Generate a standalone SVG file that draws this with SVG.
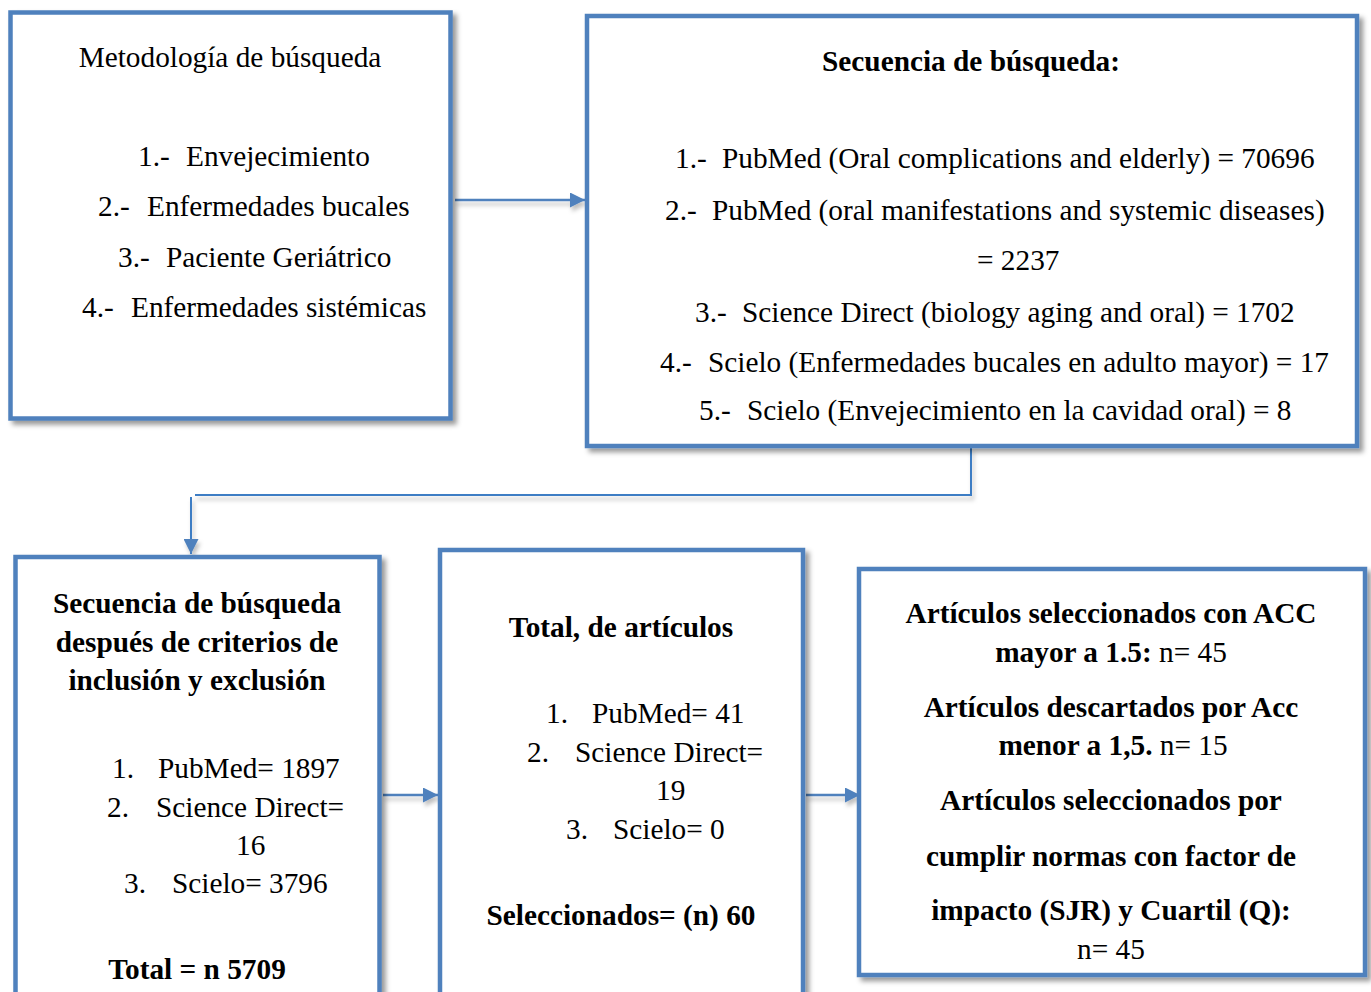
<svg xmlns="http://www.w3.org/2000/svg" width="1371" height="992" viewBox="0 0 1371 992">
<defs>
<style>
.box{fill:#fff;stroke:#4F81BD;stroke-width:4.5;filter:url(#sh)}
.t{font-family:"Liberation Serif","Times New Roman",serif;font-size:29.3px;fill:#000}
.b{font-weight:bold}
.m{text-anchor:middle}
.con{fill:none;stroke:#4F81BD;stroke-width:2.5;filter:url(#sh2)}
.con2{fill:none;stroke:#3C7DC4;stroke-width:2;filter:url(#sh2)}
</style>
<filter id="sh" x="-5%" y="-5%" width="115%" height="115%">
<feDropShadow dx="4" dy="4" stdDeviation="2.5" flood-color="#000" flood-opacity="0.4"/>
</filter>
<filter id="sh2" filterUnits="userSpaceOnUse" x="0" y="0" width="1371" height="992">
<feDropShadow dx="2" dy="4" stdDeviation="2" flood-color="#000" flood-opacity="0.25"/>
</filter>
<marker id="ah" viewBox="0 0 10 10" refX="10" refY="5" markerWidth="6" markerHeight="6" markerUnits="strokeWidth" orient="auto">
<path d="M0,0 L10,5 L0,10 z" fill="#4F81BD"/>
</marker>
<marker id="ah2" viewBox="0 0 10 10" refX="10" refY="5" markerWidth="7.5" markerHeight="7.5" markerUnits="strokeWidth" orient="auto">
<path d="M0,0 L10,5 L0,10 z" fill="#4F81BD"/>
</marker>
</defs>
<rect width="1371" height="992" fill="#fff"/>

<g id="connectors">
<line class="con" x1="455" y1="200" x2="585" y2="200" marker-end="url(#ah)"/>
<polyline class="con2" points="971,448 971,495 195,495"/>
<line class="con2" x1="191" y1="497" x2="191" y2="554" marker-end="url(#ah2)"/>
<line class="con" x1="383" y1="795" x2="438" y2="795" marker-end="url(#ah)"/>
<line class="con" x1="806" y1="795" x2="860" y2="795" marker-end="url(#ah)"/>
</g>

<g id="n1">
<rect class="box" x="10.5" y="12.5" width="440" height="406"/>
<text class="t m" x="230" y="67">Metodología de búsqueda</text>
<text class="t" x="138" y="166">1.-</text><text class="t" x="186" y="166">Envejecimiento</text>
<text class="t" x="98" y="216">2.-</text><text class="t" x="147" y="216">Enfermedades bucales</text>
<text class="t" x="118" y="267">3.-</text><text class="t" x="166" y="267">Paciente Geriátrico</text>
<text class="t" x="82" y="317">4.-</text><text class="t" x="131" y="317">Enfermedades sistémicas</text>
</g>

<g id="n2">
<rect class="box" x="587" y="16" width="770" height="430"/>
<text class="t b m" x="971" y="71">Secuencia de búsqueda:</text>
<text class="t" x="675" y="168">1.-</text><text class="t" x="722" y="168">PubMed (Oral complications and elderly) = 70696</text>
<text class="t" x="665" y="220">2.-</text><text class="t" x="712" y="220">PubMed (oral manifestations and systemic diseases)</text>
<text class="t" x="977" y="270">= 2237</text>
<text class="t" x="695" y="322">3.-</text><text class="t" x="742" y="322">Science Direct (biology aging and oral) = 1702</text>
<text class="t" x="660" y="372">4.-</text><text class="t" x="708" y="372">Scielo (Enfermedades bucales en adulto mayor) = 17</text>
<text class="t" x="699" y="420">5.-</text><text class="t" x="747" y="420">Scielo (Envejecimiento en la cavidad oral) = 8</text>
</g>

<g id="n3">
<rect class="box" x="15.5" y="557" width="364" height="460"/>
<text class="t b m" x="197" y="613">Secuencia de búsqueda</text>
<text class="t b m" x="197" y="652">después de criterios de</text>
<text class="t b m" x="197" y="690">inclusión y exclusión</text>
<text class="t" x="112" y="778">1.</text><text class="t" x="158" y="778">PubMed= 1897</text>
<text class="t" x="107" y="817">2.</text><text class="t" x="156" y="817">Science Direct=</text>
<text class="t" x="236" y="855">16</text>
<text class="t" x="124" y="893">3.</text><text class="t" x="172" y="893">Scielo= 3796</text>
<text class="t b m" x="197" y="979">Total = n 5709</text>
</g>

<g id="n4">
<rect class="box" x="440" y="550" width="363" height="470"/>
<text class="t b m" x="621" y="637">Total, de artículos</text>
<text class="t" x="546" y="723">1.</text><text class="t" x="592" y="723">PubMed= 41</text>
<text class="t" x="527" y="762">2.</text><text class="t" x="575" y="762">Science Direct=</text>
<text class="t" x="656" y="800">19</text>
<text class="t" x="566" y="839">3.</text><text class="t" x="613" y="839">Scielo= 0</text>
<text class="t b m" x="621" y="925">Seleccionados= (n) 60</text>
</g>

<g id="n5">
<rect class="box" x="859" y="569" width="506" height="406"/>
<text class="t b m" x="1111" y="623">Artículos seleccionados con ACC</text>
<text class="t m" x="1111" y="662"><tspan class="b">mayor a 1.5:</tspan> n= 45</text>
<text class="t b m" x="1111" y="717">Artículos descartados por Acc</text>
<text class="t m" x="1113" y="755"><tspan class="b">menor a 1,5.</tspan> n= 15</text>
<text class="t b m" x="1111" y="810">Artículos seleccionados por</text>
<text class="t b m" x="1111" y="866">cumplir normas con factor de</text>
<text class="t b m" x="1111" y="920">impacto (SJR) y Cuartil (Q):</text>
<text class="t m" x="1111" y="959">n= 45</text>
</g>
</svg>
